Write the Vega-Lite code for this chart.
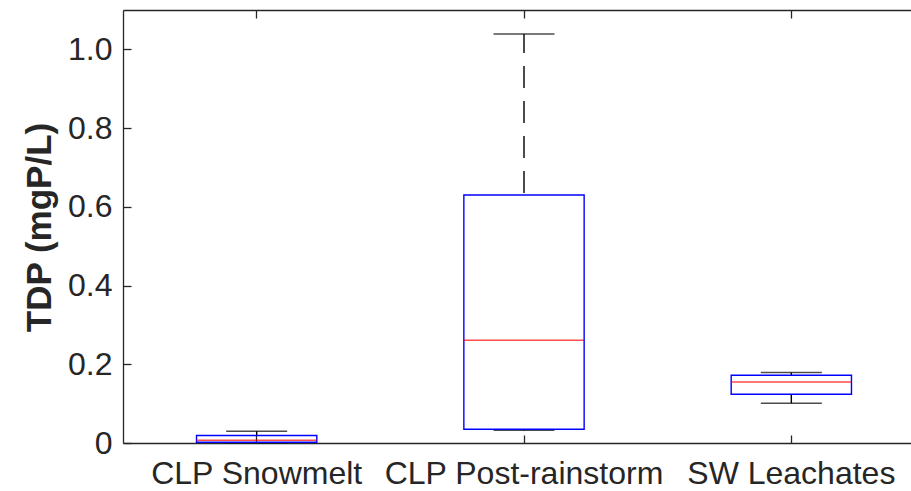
{
  "$schema": "https://vega.github.io/schema/vega-lite/v6.json",
  "width": 788,
  "height": 433,
  "autosize": "none",
  "padding": {"left": 123, "top": 10, "right": 0, "bottom": 48},
  "background": "white",
  "config": {
    "view": {"stroke": null},
    "font": "Liberation Sans",
    "axis": {"grid": false, "domainColor": "#262626", "tickColor": "#262626", "labelColor": "#262626", "titleColor": "#262626", "domainWidth": 1.3, "tickWidth": 1.3}
  },
  "data": {
    "values": [
      {"cat": "CLP Snowmelt", "lower": 0.001, "q1": 0.002, "median": 0.007, "q3": 0.019, "upper": 0.030},
      {"cat": "CLP Post-rainstorm", "lower": 0.032, "q1": 0.035, "median": 0.261, "q3": 0.630, "upper": 1.039},
      {"cat": "SW Leachates", "lower": 0.101, "q1": 0.124, "median": 0.155, "q3": 0.172, "upper": 0.179}
    ]
  },
  "resolve": {"axis": {"x": "independent"}},
  "layer": [
    {
      "mark": {"type": "rule", "color": "black", "strokeWidth": 1.4, "strokeDash": [22, 13], "strokeDashOffset": 3},
      "encoding": {
        "x": {"field": "cat", "type": "nominal", "sort": null,
          "scale": {"domain": ["CLP Snowmelt", "CLP Post-rainstorm", "SW Leachates"], "range": [0, 802], "paddingInner": 0, "paddingOuter": 0},
          "axis": {"orient": "bottom", "title": null, "labelAngle": 0, "tickSize": -8, "labelPadding": 23, "labelFontSize": 32, "labelLimit": 0}},
        "y": {"field": "upper", "type": "quantitative",
          "scale": {"domain": [0, 1.1], "nice": false, "zero": true},
          "axis": {"values": [0, 0.2, 0.4, 0.6, 0.8, 1.0], "labelExpr": "datum.value == 0 ? '0' : format(datum.value, '.1f')",
            "tickSize": -8, "labelPadding": 19, "labelFontSize": 32,
            "title": "TDP (mgP/L)", "titleFontSize": 35, "titleFontWeight": "bold", "titleAngle": -90,
            "titleX": -73, "titleY": 217, "titleAlign": "center", "titleBaseline": "alphabetic"}},
        "y2": {"field": "q3"}
      }
    },
    {
      "mark": {"type": "rule", "color": "black", "strokeWidth": 1.4, "strokeDash": [22, 13]},
      "encoding": {
        "x": {"field": "cat", "type": "nominal", "sort": null,
          "axis": {"orient": "top", "title": null, "labels": false, "tickSize": -8}},
        "y": {"field": "q1", "type": "quantitative"},
        "y2": {"field": "lower"}
      }
    },
    {
      "mark": {"type": "tick", "color": "black", "size": 61, "thickness": 1.4, "orient": "horizontal"},
      "encoding": {
        "x": {"field": "cat", "type": "nominal", "sort": null, "axis": null},
        "y": {"field": "upper", "type": "quantitative"}
      }
    },
    {
      "mark": {"type": "tick", "color": "black", "size": 61, "thickness": 1.4, "orient": "horizontal"},
      "encoding": {
        "x": {"field": "cat", "type": "nominal", "sort": null, "axis": null},
        "y": {"field": "lower", "type": "quantitative"}
      }
    },
    {
      "mark": {"type": "bar", "filled": false, "stroke": "#0000ff", "strokeWidth": 1.4, "width": {"band": 0.45}},
      "encoding": {
        "x": {"field": "cat", "type": "nominal", "sort": null, "axis": null},
        "y": {"field": "q1", "type": "quantitative"},
        "y2": {"field": "q3"}
      }
    },
    {
      "mark": {"type": "tick", "color": "#ff0000", "size": 120, "thickness": 1.4, "orient": "horizontal"},
      "encoding": {
        "x": {"field": "cat", "type": "nominal", "sort": null, "axis": null},
        "y": {"field": "median", "type": "quantitative"}
      }
    }
  ]
}
